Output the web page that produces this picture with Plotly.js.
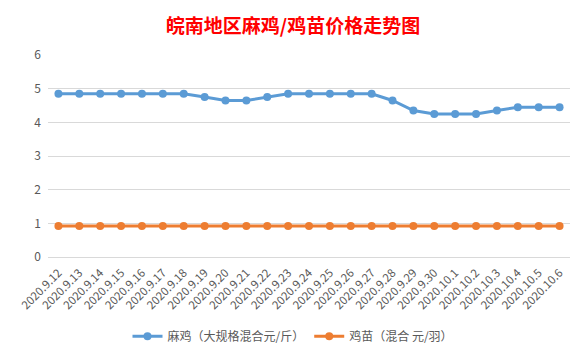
<!DOCTYPE html>
<html><head><meta charset="utf-8">
<script src="https://cdn.plot.ly/plotly-3.0.1.min.js"></script>
<style>html,body{margin:0;padding:0;background:#fff;}#chart{width:586px;height:357px;}</style>
</head><body><div id="chart"></div>
<script>
const dates = ["2020.9.12","2020.9.13","2020.9.14","2020.9.15","2020.9.16","2020.9.17","2020.9.18","2020.9.19","2020.9.20","2020.9.21","2020.9.22","2020.9.23","2020.9.24","2020.9.25","2020.9.26","2020.9.27","2020.9.28","2020.9.29","2020.9.30","2020.10.1","2020.10.2","2020.10.3","2020.10.4","2020.10.5","2020.10.6"];
const maji = [4.85,4.85,4.85,4.85,4.85,4.85,4.85,4.75,4.65,4.65,4.75,4.85,4.85,4.85,4.85,4.85,4.65,4.35,4.25,4.25,4.25,4.35,4.45,4.45,4.45];
const jimiao = [0.92,0.92,0.92,0.92,0.92,0.92,0.92,0.92,0.92,0.92,0.92,0.92,0.92,0.92,0.92,0.92,0.92,0.92,0.92,0.92,0.92,0.92,0.92,0.92,0.92];
const name1 = "麻鸡（大规格混合元/斤）";
const name2 = "鸡苗（混合 元/羽）";
const titleText = "皖南地区麻鸡/鸡苗价格走势图";

const font = "Noto Sans CJK SC, Open Sans, sans-serif";
const traces = [
  {x: dates, y: maji, name: name1, type: "scatter", mode: "lines+markers",
   line: {color: "#5B9BD5", width: 3}, marker: {color: "#5B9BD5", size: 8}},
  {x: dates, y: jimiao, name: name2, type: "scatter", mode: "lines+markers",
   line: {color: "#ED7D31", width: 3}, marker: {color: "#ED7D31", size: 8}}
];
const layout = {
  width: 586, height: 357,
  margin: {l: 48, r: 16, t: 55, b: 100},
  paper_bgcolor: "#fff", plot_bgcolor: "#fff",
  title: {text: titleText, x: 0.5, xanchor: "center", y: 0.925, yanchor: "middle",
          font: {family: "Noto Sans CJK SC, serif", size: 19, color: "#FF0000", weight: "bold"}},
  xaxis: {type: "category", range: [-0.5, 24.5], tickangle: -45, showgrid: false, automargin: false,
          showline: false, zeroline: false, ticks: "", ticklabelstandoff: 6,
          tickfont: {family: font, size: 11.5, color: "#595959"}},
  yaxis: {range: [0, 6], dtick: 1, showgrid: true, gridcolor: "#D9D9D9", gridwidth: 1, automargin: false,
          zeroline: true, zerolinecolor: "#D9D9D9", zerolinewidth: 1, showline: false, ticks: "",
          ticklabelstandoff: 6, tickfont: {family: font, size: 12, color: "#595959"}},
  legend: {orientation: "h", xref: "container", x: 0.5, xanchor: "center", yref: "container", y: 0.058, yanchor: "middle",
           font: {family: font, size: 12, color: "#595959"}, itemwidth: 30},
  showlegend: true
};
Plotly.newPlot("chart", traces, layout, {displayModeBar: false, staticPlot: true});
</script></body></html>
